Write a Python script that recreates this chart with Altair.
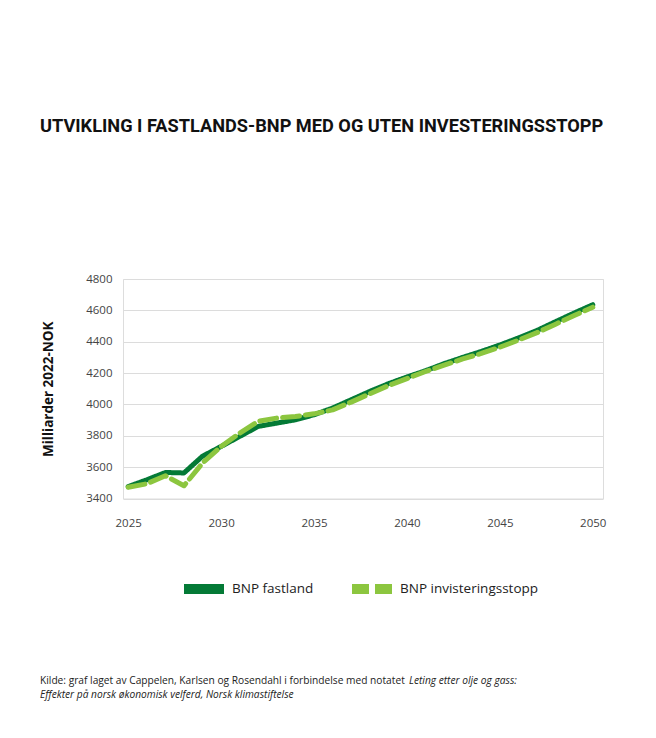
import altair as alt
import pandas as pd

years = list(range(2025, 2051))
bnp_fastland = [3476, 3519, 3566, 3563, 3670, 3732, 3796, 3860, 3881, 3902, 3934,
                3977, 4030, 4083, 4132, 4175, 4215, 4260, 4300, 4338, 4379,
                4424, 4472, 4528, 4583, 4636]
bnp_stopp = [3472, 3494, 3545, 3481, 3626, 3732, 3817, 3892, 3913, 3923, 3940,
             3965, 4015, 4068, 4120, 4165, 4210, 4250, 4290, 4325, 4365,
             4410, 4458, 4512, 4567, 4620]
series_names = ["BNP fastland", "BNP invisteringsstopp"]
series_colors = ["#047a36", "#8cc63f"]
y_ticks = [3400, 3600, 3800, 4000, 4200, 4400, 4600, 4800]
x_ticks = [2025, 2030, 2035, 2040, 2045, 2050]

title_text = "UTVIKLING I FASTLANDS-BNP MED OG UTEN INVESTERINGSSTOPP"
y_title = "Milliarder 2022-NOK"
src_line1 = "Kilde: graf laget av Cappelen, Karlsen og Rosendahl i forbindelse med notatet "
src_line1_it = "Leting etter olje og gass:"
src_line2 = "Effekter på norsk økonomisk velferd, Norsk klimastiftelse"

rows = []
for name, vals in zip(series_names, [bnp_fastland, bnp_stopp]):
    for yr, v in zip(years, vals):
        rows.append({"year": yr, "value": v, "series": name})
df = pd.DataFrame(rows)

FONT = "Open Sans"

legend_cfg = dict(title=None, orient="none", direction="horizontal",
                  legendX=56, legendY=285, symbolType="stroke",
                  symbolStrokeWidth=10, symbolSize=1600,
                  labelFontSize=13.5, labelFont=FONT, labelColor="#222",
                  columnPadding=18, labelOffset=3)

lines = alt.Chart(df).mark_line(strokeWidth=5, strokeCap="round", strokeJoin="round").encode(
    x=alt.X("year:Q", scale=alt.Scale(domain=[2024.72, 2050.55], nice=False, zero=False),
            axis=alt.Axis(values=x_ticks, format="d", title=None, grid=False, domain=False,
                          ticks=False, labelPadding=19, labelFontSize=11.5, labelColor="#444",
                          labelFont=FONT)),
    y=alt.Y("value:Q", scale=alt.Scale(domain=[3400, 4800], nice=False, zero=False),
            axis=alt.Axis(values=y_ticks, format="d", title=y_title, grid=True, gridColor="#dcdcdc",
                          domain=False, ticks=False, labelPadding=11, labelFontSize=11.5,
                          labelColor="#444", labelFont=FONT, titleFont=FONT,
                          titleFontSize=13.5, titleFontWeight="bold", titleColor="#111",
                          titlePadding=30)),
    color=alt.Color("series:N", scale=alt.Scale(domain=series_names, range=series_colors),
                    legend=alt.Legend(**legend_cfg)),
    strokeDash=alt.StrokeDash("series:N",
                              scale=alt.Scale(domain=series_names, range=[[1, 0], [17, 6]]),
                              legend=alt.Legend(**legend_cfg)),
)

title = alt.Chart(pd.DataFrame({"t": [title_text]})).mark_text(
    align="left", baseline="alphabetic", font="Roboto",
    fontWeight="bold", fontSize=18.2, color="#111"
).encode(x=alt.value(-83), y=alt.value(-147), text="t:N")

src1 = alt.Chart(pd.DataFrame({"t": [src_line1]})).mark_text(
    align="left", baseline="alphabetic", font=FONT, fontSize=10.2, color="#222"
).encode(x=alt.value(-83), y=alt.value(405), text="t:N")

src1b = alt.Chart(pd.DataFrame({"t": [src_line1_it]})).mark_text(
    align="left", baseline="alphabetic", font=FONT, fontSize=10.2, fontStyle="italic", color="#222"
).encode(x=alt.value(286), y=alt.value(405), text="t:N")

src2 = alt.Chart(pd.DataFrame({"t": [src_line2]})).mark_text(
    align="left", baseline="alphabetic", font=FONT, fontSize=10.2, fontStyle="italic", color="#222"
).encode(x=alt.value(-83), y=alt.value(419), text="t:N")

chart = alt.layer(lines, title, src1, src1b, src2).properties(
    width=480, height=219.5,
    autosize=alt.AutoSizeParams(type="none"),
    padding={"left": 115, "top": 271, "right": 45, "bottom": 231},
).configure_view(stroke=None).configure(background="white")

chart.save("out.html", embed_options={"renderer": "svg", "actions": False})
